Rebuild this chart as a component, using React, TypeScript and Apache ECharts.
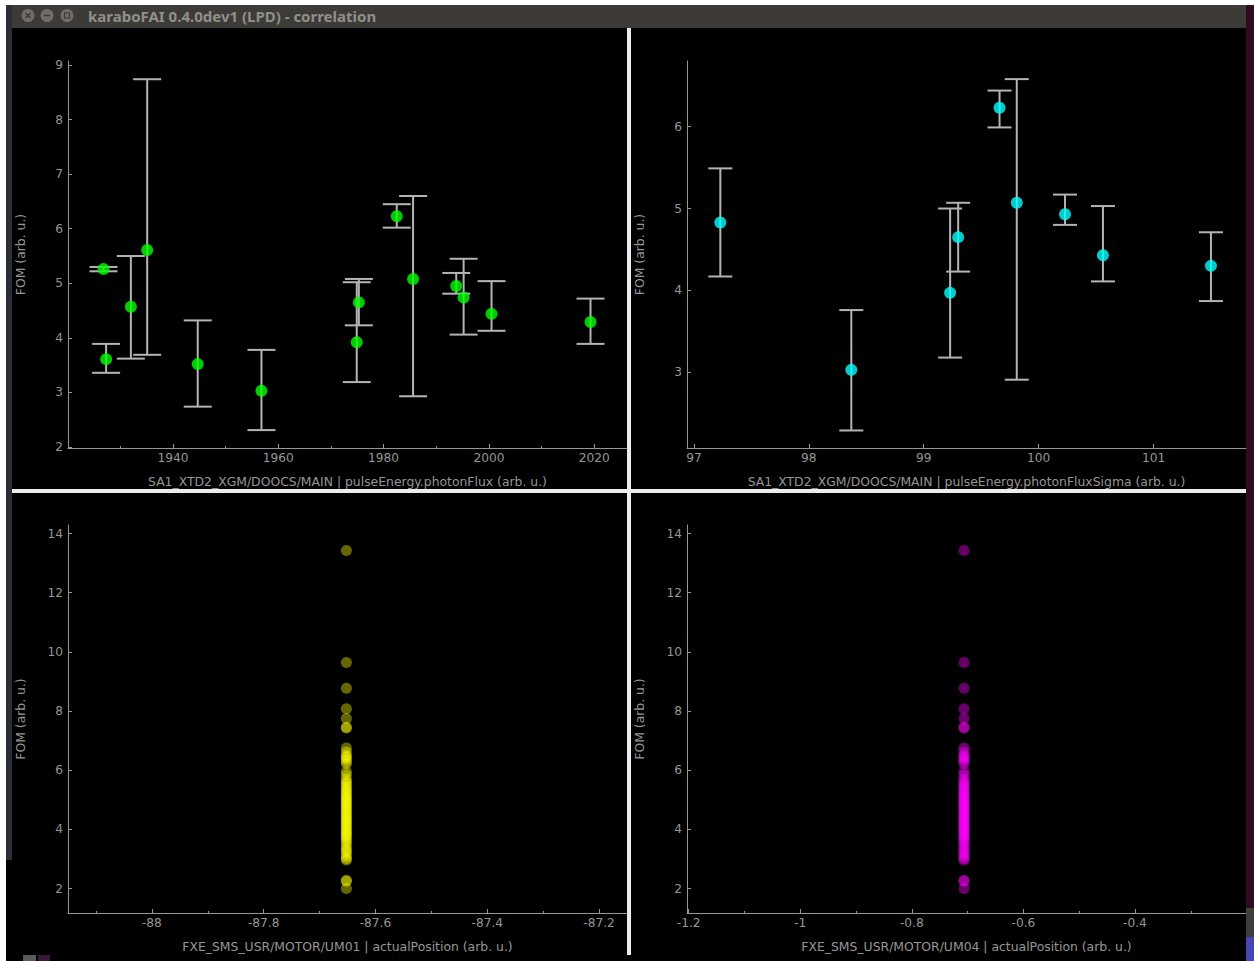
import React, { useEffect, useRef } from "react";
import * as echarts from "echarts";

// ---------- Data ----------
// Top-left: FOM vs pulseEnergy.photonFlux (binned, with error bars)
const photonFlux = [1926.8, 1927.3, 1932.0, 1935.1, 1944.7, 1956.8, 1974.9, 1975.3, 1982.5, 1985.6, 1993.8, 1995.2, 2000.5, 2019.3];
const fluxFom = [5.26, 3.61, 4.57, 5.61, 3.52, 3.03, 3.92, 4.65, 6.23, 5.08, 4.95, 4.74, 4.44, 4.29];
const fluxFomLow = [5.22, 3.36, 3.62, 3.69, 2.74, 2.31, 3.19, 4.23, 6.02, 2.93, 4.81, 4.06, 4.13, 3.89];
const fluxFomHigh = [5.3, 3.89, 5.5, 8.74, 4.32, 3.78, 5.02, 5.08, 6.45, 6.6, 5.19, 5.45, 5.04, 4.72];

// Top-right: FOM vs pulseEnergy.photonFluxSigma
const fluxSigma = [97.23, 98.37, 99.23, 99.3, 99.66, 99.81, 100.23, 100.56, 101.5];
const sigmaFom = [4.83, 3.03, 3.97, 4.65, 6.23, 5.07, 4.93, 4.43, 4.3];
const sigmaFomLow = [4.17, 2.29, 3.18, 4.23, 5.99, 2.91, 4.8, 4.11, 3.87];
const sigmaFomHigh = [5.49, 3.76, 5.0, 5.07, 6.44, 6.58, 5.17, 5.03, 4.71];

// Bottom: raw FOM vs motor actualPosition (single motor position)
const positionUM01 = -87.652;
const positionUM04 = -0.7065;
const motorFom = [
  13.43, 9.64, 8.77, 8.08, 7.75, 7.45, 7.43,
  6.75, 6.62, 6.5, 6.45, 6.38, 6.3, 6.22, 5.95, 5.85, 5.7, 5.62, 5.55, 5.48,
  5.4, 5.33, 5.27, 5.2, 5.14, 5.08, 5.02, 4.96, 4.9, 4.84, 4.78, 4.72, 4.66,
  4.6, 4.54, 4.48, 4.42, 4.36, 4.3, 4.24, 4.18, 4.12, 4.06, 4.0, 3.94, 3.88,
  3.82, 3.76, 3.7, 3.62, 3.55, 3.45, 3.35, 3.28, 3.2, 3.1, 3.02, 2.97,
  2.28, 2.25, 2.0,
];

// Tick values
const fluxTicks = [1940, 1960, 1980, 2000, 2020];
const fluxMinorTicks = [1930, 1950, 1970, 1990, 2010];
const fluxFomTicks = [2, 3, 4, 5, 6, 7, 8, 9];
const sigmaTicks = [97, 98, 99, 100, 101];
const sigmaFomTicks = [3, 4, 5, 6];
const um01Ticks = [-88, -87.8, -87.6, -87.4, -87.2];
const um01MinorTicks = [-88.1, -87.9, -87.7, -87.5, -87.3];
const um04Ticks = [-1.2, -1, -0.8, -0.6, -0.4];
const um04MinorTicks = [-1.1, -0.9, -0.7, -0.5, -0.3];
const motorFomTicks = [2, 4, 6, 8, 10, 12, 14];

// ---------- Styles ----------
const GREY = "#969696";
const BAR = "#b4b4b4";
const FONT = "DejaVu Sans";

const fmt = (v: number) => String(Math.round(v * 1000) / 1000);

function xAxis(gridIndex: number, min: number, max: number, ticks: number[], name: string) {
  return {
    type: "value",
    gridIndex,
    min,
    max,
    position: "bottom",
    name,
    nameLocation: "middle",
    nameGap: 27,
    nameTextStyle: { color: GREY, fontSize: 12.4, fontFamily: FONT },
    axisLine: { show: true, onZero: false, lineStyle: { color: GREY, width: 1 } },
    axisTick: { show: true, inside: true, length: 4, customValues: ticks, lineStyle: { color: GREY } },
    axisLabel: { show: true, customValues: ticks, color: GREY, fontSize: 12.2, fontFamily: FONT, margin: 4, formatter: fmt },
    splitLine: { show: false },
  };
}

function minorAxis(gridIndex: number, min: number, max: number, ticks: number[]) {
  return {
    type: "value",
    gridIndex,
    min,
    max,
    position: "bottom",
    offset: 0,
    axisLine: { show: false },
    axisTick: { show: true, inside: true, length: 2, customValues: ticks, lineStyle: { color: GREY } },
    axisLabel: { show: false, customValues: ticks },
    splitLine: { show: false },
  };
}

function yAxis(gridIndex: number, min: number, max: number, ticks: number[]) {
  return {
    type: "value",
    gridIndex,
    min,
    max,
    position: "left",
    name: "FOM (arb. u.)",
    nameLocation: "middle",
    nameGap: 42,
    nameTextStyle: { color: GREY, fontSize: 12.4, fontFamily: FONT },
    axisLine: { show: true, onZero: false, lineStyle: { color: GREY, width: 1 } },
    axisTick: { show: true, inside: true, length: 4, customValues: ticks, lineStyle: { color: GREY } },
    axisLabel: { show: true, customValues: ticks, color: GREY, fontSize: 12.2, fontFamily: FONT, margin: 5, formatter: fmt },
    splitLine: { show: false },
  };
}

function errorBars(xIdx: number, yIdx: number, xs: number[], lo: number[], hi: number[], ys: number[], halfCap: number) {
  return {
    type: "custom",
    xAxisIndex: xIdx,
    yAxisIndex: yIdx,
    silent: true,
    encode: { x: 0, y: [1, 2, 3] },
    data: xs.map((x, i) => [x, ys[i], lo[i], hi[i]]),
    renderItem: (_params: any, api: any) => {
      const x = api.value(0);
      const pLo = api.coord([x, api.value(2)]);
      const pHi = api.coord([x, api.value(3)]);
      const style = { stroke: BAR, lineWidth: 2 };
      return {
        type: "group",
        children: [
          { type: "line", shape: { x1: pLo[0], y1: pLo[1], x2: pHi[0], y2: pHi[1] }, style },
          { type: "line", shape: { x1: pLo[0] - halfCap, y1: pLo[1], x2: pLo[0] + halfCap, y2: pLo[1] }, style },
          { type: "line", shape: { x1: pHi[0] - halfCap, y1: pHi[1], x2: pHi[0] + halfCap, y2: pHi[1] }, style },
        ],
      };
    },
    z: 2,
  };
}

const TL = [1920.06, 2026.23];
const TR = [96.94, 101.805];
const BL = [-88.15, -87.15];
const BR = [-1.203, -0.201];

const option: any = {
  animation: false,
  backgroundColor: "#000000",
  grid: [
    { left: 68, top: 61, width: 559, height: 387 },
    { left: 687, top: 61, width: 559, height: 387 },
    { left: 68, top: 525, width: 559, height: 388 },
    { left: 687, top: 525, width: 559, height: 388 },
  ],
  xAxis: [
    xAxis(0, TL[0], TL[1], fluxTicks, "SA1_XTD2_XGM/DOOCS/MAIN | pulseEnergy.photonFlux (arb. u.)"),
    xAxis(1, TR[0], TR[1], sigmaTicks, "SA1_XTD2_XGM/DOOCS/MAIN | pulseEnergy.photonFluxSigma (arb. u.)"),
    xAxis(2, BL[0], BL[1], um01Ticks, "FXE_SMS_USR/MOTOR/UM01 | actualPosition (arb. u.)"),
    xAxis(3, BR[0], BR[1], um04Ticks, "FXE_SMS_USR/MOTOR/UM04 | actualPosition (arb. u.)"),
    minorAxis(0, TL[0], TL[1], fluxMinorTicks),
    minorAxis(2, BL[0], BL[1], um01MinorTicks),
    minorAxis(3, BR[0], BR[1], um04MinorTicks),
  ],
  yAxis: [
    yAxis(0, 1.982, 9.074, fluxFomTicks),
    yAxis(1, 2.076, 6.801, sigmaFomTicks),
    yAxis(2, 1.175, 14.29, motorFomTicks),
    yAxis(3, 1.175, 14.29, motorFomTicks),
  ],
  series: [
    errorBars(0, 0, photonFlux, fluxFomLow, fluxFomHigh, fluxFom, 14),
    {
      type: "scatter",
      xAxisIndex: 0,
      yAxisIndex: 0,
      symbol: "circle",
      symbolSize: 12,
      itemStyle: { color: "#00ff00" },
      data: photonFlux.map((x, i) => [x, fluxFom[i]]),
      z: 3,
    },
    errorBars(1, 1, fluxSigma, sigmaFomLow, sigmaFomHigh, sigmaFom, 12),
    {
      type: "scatter",
      xAxisIndex: 1,
      yAxisIndex: 1,
      symbol: "circle",
      symbolSize: 12,
      itemStyle: { color: "#00ffff" },
      data: fluxSigma.map((x, i) => [x, sigmaFom[i]]),
      z: 3,
    },
    {
      type: "scatter",
      xAxisIndex: 2,
      yAxisIndex: 2,
      symbol: "circle",
      symbolSize: 11,
      itemStyle: { color: "rgba(255,255,0,0.5)" },
      data: motorFom.map((v) => [positionUM01, v]),
      z: 3,
    },
    {
      type: "scatter",
      xAxisIndex: 3,
      yAxisIndex: 3,
      symbol: "circle",
      symbolSize: 11,
      itemStyle: { color: "rgba(255,0,255,0.5)" },
      data: motorFom.map((v) => [positionUM04, v]),
      z: 3,
    },
  ],
  graphic: [
    // desktop surroundings
    { type: "rect", shape: { x: 0, y: 0, width: 1254, height: 5 }, style: { fill: "#ffffff" }, silent: true },
    { type: "rect", shape: { x: 0, y: 0, width: 6, height: 961 }, style: { fill: "#ffffff" }, silent: true },
    { type: "rect", shape: { x: 6, y: 5, width: 6, height: 855 }, style: { fill: "#2b2e37" }, silent: true },
    { type: "rect", shape: { x: 1246, y: 5, width: 8, height: 903 }, style: { fill: "#2c0b23" }, silent: true },
    { type: "rect", shape: { x: 1246, y: 908, width: 8, height: 29 }, style: { fill: "#3e3d39" }, silent: true },
    { type: "rect", shape: { x: 1246, y: 937, width: 8, height: 24 }, style: { fill: "#4545b5" }, silent: true },
    // title bar
    { type: "rect", shape: { x: 12, y: 5, width: 1234, height: 23 }, style: { fill: "#3c3b37" }, silent: true },
    { type: "circle", shape: { cx: 28, cy: 15.5, r: 6.5 }, style: { fill: "#6e6d67" }, silent: true },
    { type: "circle", shape: { cx: 47, cy: 15.5, r: 6.5 }, style: { fill: "#6e6d67" }, silent: true },
    { type: "circle", shape: { cx: 67, cy: 15.5, r: 6.5 }, style: { fill: "#6e6d67" }, silent: true },
    { type: "line", shape: { x1: 25.5, y1: 13, x2: 30.5, y2: 18 }, style: { stroke: "#3c3b37", lineWidth: 1.5 }, silent: true },
    { type: "line", shape: { x1: 30.5, y1: 13, x2: 25.5, y2: 18 }, style: { stroke: "#3c3b37", lineWidth: 1.5 }, silent: true },
    { type: "line", shape: { x1: 44, y1: 15.5, x2: 50, y2: 15.5 }, style: { stroke: "#3c3b37", lineWidth: 1.5 }, silent: true },
    { type: "rect", shape: { x: 64.5, y: 13, width: 5, height: 5 }, style: { fill: "none", stroke: "#3c3b37", lineWidth: 1.2 }, silent: true },
    {
      type: "text",
      x: 88,
      y: 15.5,
      style: {
        text: "karaboFAI 0.4.0dev1 (LPD) - correlation",
        fill: "#918f8a",
        font: "bold 15px 'Noto Sans'",
        verticalAlign: "middle",
      },
      silent: true,
    },
    // splitter bars
    { type: "rect", shape: { x: 627, y: 28, width: 4, height: 927 }, style: { fill: "#ececec" }, silent: true },
    { type: "rect", shape: { x: 12, y: 489, width: 1234, height: 4 }, style: { fill: "#ececec" }, silent: true },
    // bottom launcher bits
    { type: "rect", shape: { x: 23, y: 955, width: 13, height: 6 }, style: { fill: "#5a5a5a" }, silent: true },
    { type: "rect", shape: { x: 38, y: 955, width: 12, height: 6 }, style: { fill: "#3a1838" }, silent: true },
  ],
};

export default function App() {
  const ref = useRef<HTMLDivElement>(null);
  useEffect(() => {
    if (!ref.current) return;
    const chart = echarts.init(ref.current, null, { renderer: "svg" });
    chart.setOption(option);
    return () => chart.dispose();
  }, []);
  return (
    <div
      ref={ref}
      style={{ position: "fixed", left: 0, top: 0, width: 1254, height: 961, background: "#000" }}
    />
  );
}
